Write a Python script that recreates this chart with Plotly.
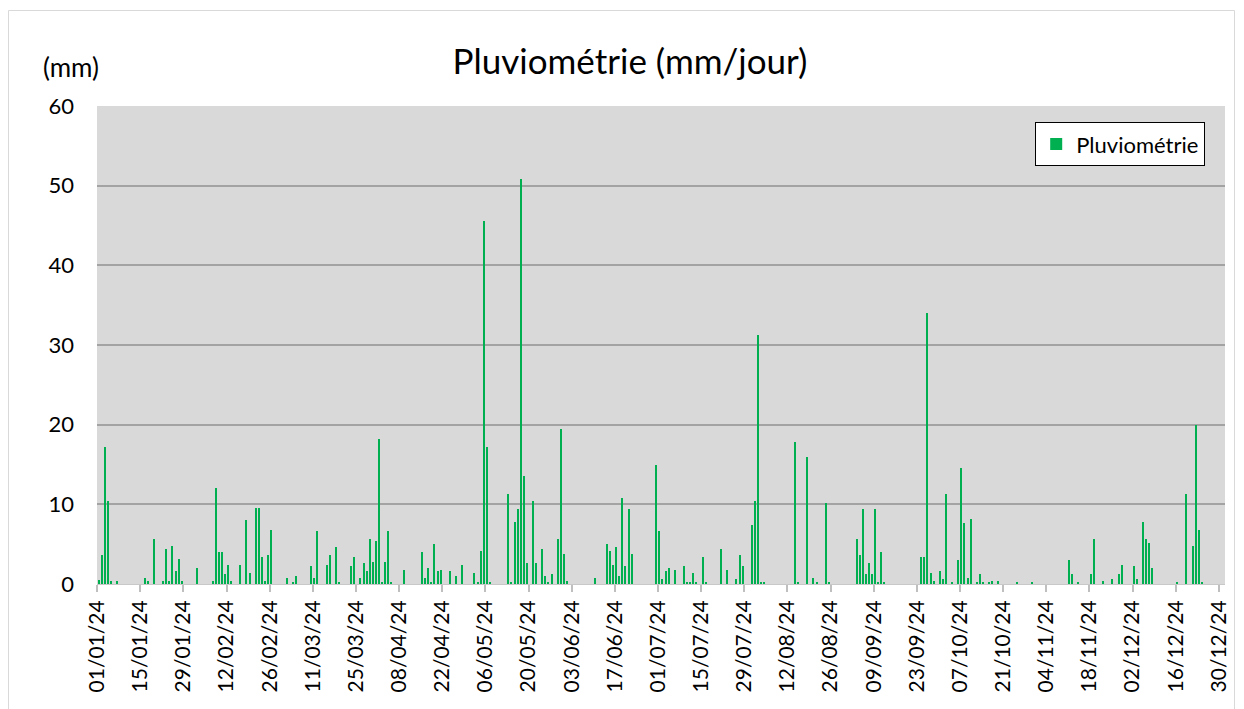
import plotly.graph_objects as go
import pandas as pd

# Day-of-year offsets (0 = 01/01/2024) with non-zero rainfall, and rainfall in mm
rain_day = [0, 1, 2, 3, 4, 6, 15, 16, 18, 21, 22, 23, 24, 25, 26, 27, 32, 37, 38, 39,
            40, 41, 42, 43, 46, 48, 49, 51, 52, 53, 54, 55, 56, 61, 63, 64, 69, 70, 71, 74,
            75, 77, 78, 82, 83, 85, 86, 87, 88, 89, 90, 91, 92, 93, 94, 95, 99, 105, 106, 107,
            108, 109, 110, 111, 114, 116, 118, 122, 123, 124, 125, 126, 127, 133, 134, 135, 136, 137, 138, 139,
            141, 142, 144, 145, 146, 147, 149, 150, 151, 152, 161, 165, 166, 167, 168, 169, 170, 171, 172, 173,
            181, 182, 183, 184, 185, 187, 190, 191, 192, 193, 194, 196, 197, 202, 204, 207, 208, 209, 212, 213,
            214, 215, 216, 226, 227, 230, 232, 233, 236, 237, 246, 247, 248, 249, 250, 251, 252, 253, 254, 255,
            267, 268, 269, 270, 271, 273, 274, 275, 277, 279, 280, 281, 282, 283, 285, 286, 287, 289, 290, 292,
            298, 303, 315, 316, 318, 322, 323, 326, 329, 331, 332, 336, 337, 339, 340, 341, 342, 350, 353, 355,
            356, 357, 358]
rain_mm = [0.5, 3.6, 17.2, 10.4, 0.4, 0.4, 0.8, 0.4, 5.6, 0.4, 4.4, 0.4, 4.8, 1.6, 3.2, 0.4, 2.0, 0.4, 12.0, 4.0,
           4.0, 1.2, 2.4, 0.4, 2.4, 8.0, 1.4, 9.6, 9.6, 3.4, 0.4, 3.6, 6.8, 0.8, 0.25, 1.0, 2.2, 0.8, 6.6, 2.4,
           3.6, 4.6, 0.25, 2.2, 3.4, 0.8, 2.6, 1.6, 5.6, 2.8, 5.4, 18.2, 0.25, 2.8, 6.6, 0.25, 1.8, 4.0, 0.8, 2.0,
           0.25, 5.0, 1.6, 1.8, 1.6, 1.0, 2.4, 1.4, 0.25, 4.2, 45.6, 17.2, 0.25, 11.3, 0.25, 7.8, 9.4, 50.8, 13.6, 2.6,
           10.4, 2.6, 4.4, 1.0, 0.25, 1.2, 5.6, 19.4, 3.8, 0.4, 0.8, 5.0, 4.2, 2.4, 4.6, 1.0, 10.8, 2.2, 9.4, 3.8,
           15.0, 6.6, 0.6, 1.6, 2.0, 1.8, 2.2, 0.25, 0.25, 1.4, 0.25, 3.4, 0.25, 4.4, 1.8, 0.6, 3.6, 2.2, 7.4, 10.4,
           31.2, 0.25, 0.25, 17.8, 0.25, 16.0, 0.8, 0.25, 10.2, 0.25, 5.6, 3.6, 9.4, 1.2, 2.6, 1.2, 9.4, 0.25, 4.0, 0.25,
           3.4, 3.4, 34.0, 1.4, 0.4, 1.6, 0.6, 11.3, 0.25, 3.0, 14.6, 7.6, 0.8, 8.2, 0.25, 1.2, 0.25, 0.25, 0.4, 0.4,
           0.25, 0.25, 3.0, 1.2, 0.25, 1.2, 5.6, 0.4, 0.6, 1.2, 2.4, 2.2, 0.6, 7.8, 5.6, 5.2, 2.0, 0.25, 11.3, 4.8,
           20.0, 6.8, 0.25]

tick_labels = ["01/01/24", "15/01/24", "29/01/24", "12/02/24", "26/02/24", "11/03/24", "25/03/24",
               "08/04/24", "22/04/24", "06/05/24", "20/05/24", "03/06/24", "17/06/24", "01/07/24",
               "15/07/24", "29/07/24", "12/08/24", "26/08/24", "09/09/24", "23/09/24", "07/10/24",
               "21/10/24", "04/11/24", "18/11/24", "02/12/24", "16/12/24", "30/12/24"]

start = pd.Timestamp("2024-01-01")
x_dates = [start + pd.Timedelta(days=d) for d in rain_day]
tick_vals = [pd.to_datetime(t, format="%d/%m/%y") for t in tick_labels]

FONT = "Lato"
DAY_MS = 86400000
W, H = 1236, 701          # page body has an 8px margin
PW, PH = 1128, 478        # plot area size

fig = go.Figure()
fig.add_trace(go.Bar(
    x=x_dates, y=rain_mm, name="Pluviométrie",
    xperiod=DAY_MS, xperiodalignment="middle",
    width=0.42 * DAY_MS,
    marker=dict(color="#00b050", line=dict(width=0)),
    showlegend=True,
))

fig.update_layout(
    width=W, height=H,
    margin=dict(l=89, r=19, t=98, b=125, autoexpand=False),
    paper_bgcolor="white",
    plot_bgcolor="#d9d9d9",
    font=dict(family=FONT, color="#000000", size=22),
    title=dict(text="Pluviométrie (mm/jour)", x=(630 - 8) / W, xanchor="center",
               y=1 - 54 / H, yanchor="middle",
               font=dict(family=FONT, size=35, color="#000000")),
    bargap=0,
    legend=dict(x=(1205 - 97) / PW, xanchor="right", y=(584 - 122) / PH, yanchor="top",
                bgcolor="white", bordercolor="#000000", borderwidth=1.2,
                font=dict(family=FONT, size=22, color="#000000")),
    xaxis=dict(
        type="date",
        range=[pd.Timestamp("2023-12-31 23:00"), pd.Timestamp("2025-01-01")],
        tickmode="array", tickvals=tick_vals, ticktext=tick_labels,
        tickangle=-90,
        ticks="outside", ticklen=7, tickwidth=1.5, tickcolor="#bfbfbf",
        showline=True, linecolor="#c8c8c8", linewidth=1,
        showgrid=False, zeroline=False,
        tickfont=dict(family=FONT, size=21, color="#000000"),
    ),
    yaxis=dict(
        range=[0, 60], dtick=10, tick0=0,
        showgrid=True, gridcolor="#a3a3a3", gridwidth=1.8,
        zeroline=False, showline=False,
        ticks="", ticklabelstandoff=22,
        tickfont=dict(family=FONT, size=22, color="#000000"),
    ),
    annotations=[dict(text="(mm)", xref="paper", yref="paper",
                      x=(71 - 97) / PW, y=(584 - 67) / PH,
                      xanchor="center", yanchor="middle", showarrow=False,
                      font=dict(family=FONT, size=26, color="#000000"))],
    shapes=[dict(type="rect", xref="paper", yref="paper",
                 x0=(8.5 - 97) / PW, x1=(1234.5 - 97) / PW,
                 y0=(584 - 760) / PH, y1=(584 - 10.5) / PH,
                 line=dict(color="#d9d9d9", width=1), fillcolor="rgba(0,0,0,0)",
                 layer="below")],
)

fig.write_html("out.html")
